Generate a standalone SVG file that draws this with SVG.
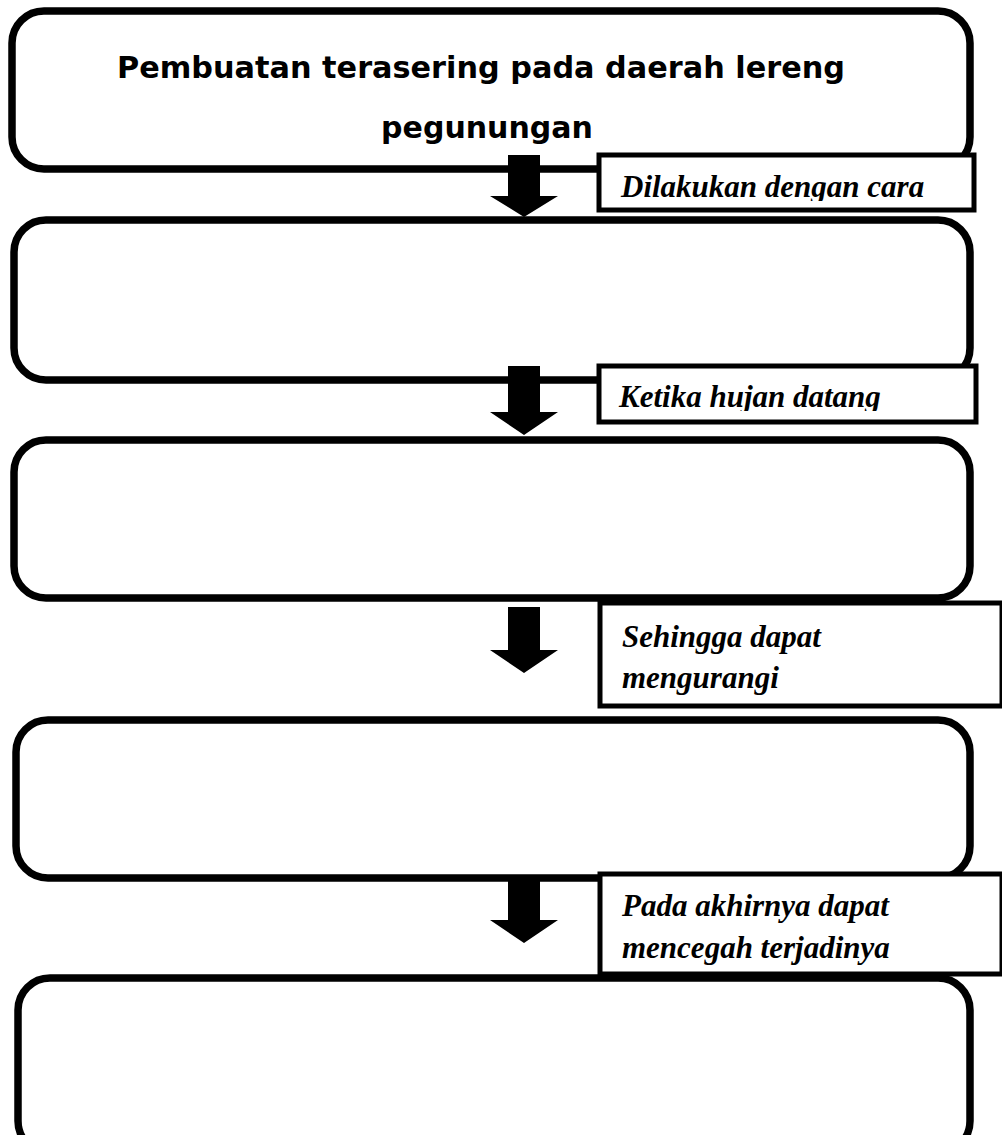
<svg xmlns="http://www.w3.org/2000/svg" width="1002" height="1135" viewBox="0 0 1002 1135">
  <style>
    .box { fill: #fff; stroke: #000; stroke-width: 7.5; }
    .lbl { fill: #fff; stroke: #000; stroke-width: 5; }
    .title { font-family: "DejaVu Sans", "Liberation Sans", sans-serif; font-weight: bold; font-size: 30px; fill: #000; text-anchor: middle; }
    .cap { font-family: "Liberation Serif", serif; font-weight: bold; font-style: italic; font-size: 31px; fill: #000; }
    .arrow { fill: #000; }
  </style>
  <defs>
    <clipPath id="clip-l1"><rect x="601" y="158" width="371" height="43"/></clipPath>
    <clipPath id="clip-l2"><rect x="601" y="368" width="373" height="43"/></clipPath>
  </defs>
  <rect width="1002" height="1135" fill="#fff"/>

  <!-- flow boxes -->
  <g id="step1">
    <rect class="box" x="12" y="11" width="958" height="158" rx="32"/>
    <text class="title" x="481" y="78" textLength="728" lengthAdjust="spacingAndGlyphs">Pembuatan terasering pada daerah lereng</text>
    <text class="title" x="487" y="138">pegunungan</text>
  </g>
  <g id="step2">
    <rect class="box" x="14" y="220" width="956" height="160" rx="32"/>
  </g>
  <g id="step3">
    <rect class="box" x="14" y="440" width="956" height="158" rx="32"/>
  </g>
  <g id="step4">
    <rect class="box" x="16" y="720" width="954" height="158" rx="32"/>
  </g>
  <g id="step5">
    <rect class="box" x="18" y="978" width="952" height="175" rx="32"/>
  </g>

  <!-- block arrows between the steps -->
  <g id="connectors">
    <polygon class="arrow" points="508,155 540,155 540,196 558,196 524,217 490,196 508,196"/>
    <polygon class="arrow" points="508,366 540,366 540,412 558,412 524,435 490,412 508,412"/>
    <polygon class="arrow" points="508,607 540,607 540,650 558,650 524,673 490,650 508,650"/>
    <polygon class="arrow" points="508,878 540,878 540,920 558,920 524,943 490,920 508,920"/>
  </g>

  <!-- captions beside the arrows -->
  <g id="label1">
    <rect class="lbl" x="599" y="155" width="375" height="55"/>
    <text class="cap" x="621" y="197" clip-path="url(#clip-l1)">Dilakukan dengan cara</text>
  </g>
  <g id="label2">
    <rect class="lbl" x="599" y="366" width="377" height="56"/>
    <text class="cap" x="619" y="407" clip-path="url(#clip-l2)">Ketika hujan datang</text>
  </g>
  <g id="label3">
    <rect class="lbl" x="600" y="603" width="402" height="103"/>
    <text class="cap" x="622" y="647">Sehingga dapat</text>
    <text class="cap" x="622" y="688">mengurangi</text>
  </g>
  <g id="label4">
    <rect class="lbl" x="600" y="874" width="402" height="100"/>
    <text class="cap" x="622" y="916">Pada akhirnya dapat</text>
    <text class="cap" x="622" y="958">mencegah terjadinya</text>
  </g>
</svg>
